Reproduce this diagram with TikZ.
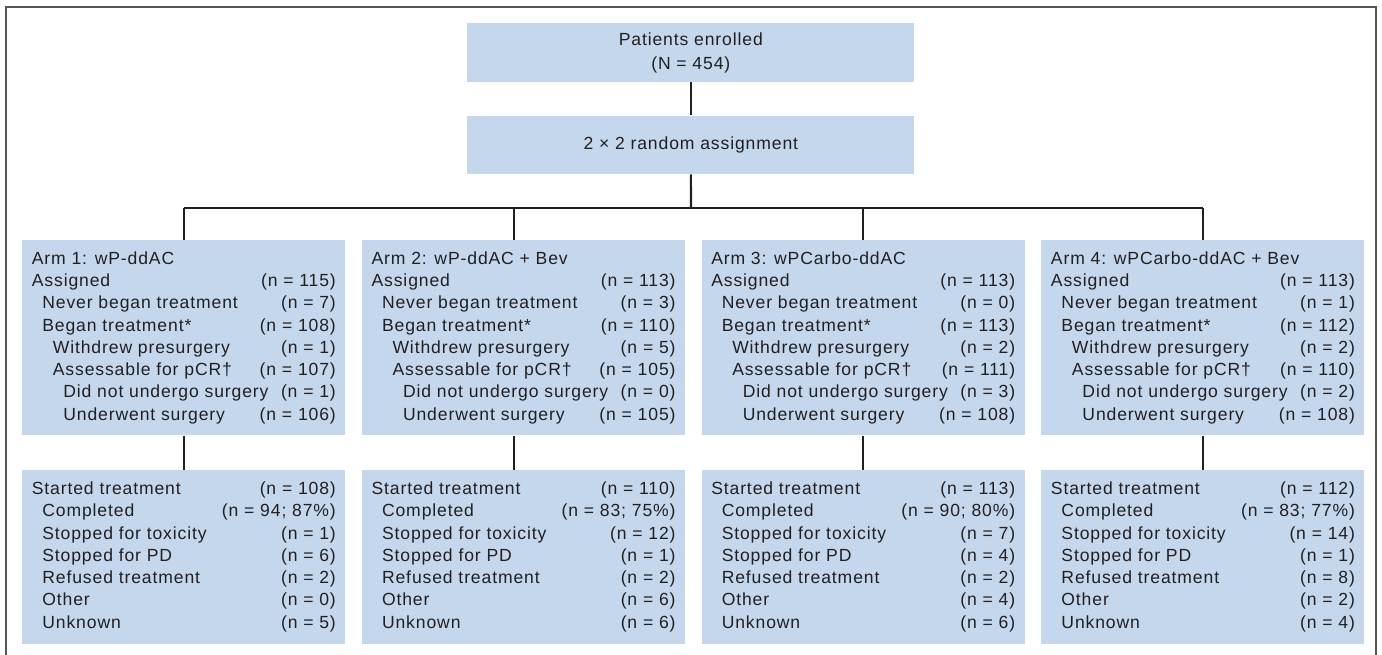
\documentclass[tikz,border=0pt]{standalone}
\usepackage{fontspec}
\setmainfont[LetterSpace=5]{Liberation Sans}
\usepackage{tikz}
\usetikzlibrary{positioning}

\definecolor{boxblue}{RGB}{196,215,237}
\definecolor{inkgray}{RGB}{35,31,32}
\definecolor{framegray}{RGB}{85,85,85}

\newlength{\pxu}
\setlength{\pxu}{0.02cm}
\newcommand{\lvA}{\hspace*{10.5\pxu}}
\newcommand{\lvB}{\hspace*{21\pxu}}
\newcommand{\lvC}{\hspace*{31.5\pxu}}
% one line of a box: label left, count right
\newcommand{\cntrow}[2]{\makebox[304\pxu][s]{#1\hfill#2}}

% upper arm box: title, then the seven counts
\newcommand{\armlist}[8]{%
  \begin{tabular}{@{}l@{}}
    #1\\
    \cntrow{Assigned}{(n = #2)}\\
    \cntrow{\lvA Never began treatment}{(n = #3)}\\
    \cntrow{\lvA Began treatment*}{(n = #4)}\\
    \cntrow{\lvB Withdrew presurgery}{(n = #5)}\\
    \cntrow{\lvB Assessable for pCR†}{(n = #6)}\\
    \cntrow{\lvC Did not undergo surgery}{(n = #7)}\\
    \cntrow{\lvC Underwent surgery}{(n = #8)}
  \end{tabular}}

% lower box: what became of the treatment
\newcommand{\treatlist}[7]{%
  \begin{tabular}{@{}l@{}}
    \cntrow{Started treatment}{(n = #1)}\\
    \cntrow{\lvA Completed}{(n = #2)}\\
    \cntrow{\lvA Stopped for toxicity}{(n = #3)}\\
    \cntrow{\lvA Stopped for PD}{(n = #4)}\\
    \cntrow{\lvA Refused treatment}{(n = #5)}\\
    \cntrow{\lvA Other}{(n = #6)}\\
    \cntrow{\lvA Unknown}{(n = #7)}
  \end{tabular}}

\begin{document}
\begin{tikzpicture}[
  x=0.02cm, y=-0.02cm,
  node distance=0.66cm and 0.32cm,
  every node/.style={text=inkgray},
  topbox/.style={fill=boxblue, minimum width=8.94cm, minimum height=1.17cm, inner sep=0pt, align=center,
    font=\fontsize{10pt}{13.6pt}\selectfont},
  armbox/.style={fill=boxblue, minimum width=6.46cm, minimum height=3.9cm, inner xsep=0.19cm, inner ysep=0pt,
    font=\fontsize{10pt}{12.67pt}\selectfont},
  resbox/.style={armbox, minimum height=3.48cm},
  link/.style={draw=inkgray, line width=1.2pt},
]
\useasboundingbox (0,0) rectangle (1382,655);

% Frame
\draw[framegray, line width=1.1pt] (6,655) -- (6,7) -- (1376,7) -- (1376,655);

% Nodes
\node[topbox, anchor=north west] (enrol) at (467,23) {Patients enrolled\\(N = 454)};
\node[topbox, below=of enrol] (assign) {2 × 2 random assignment};

\node[armbox, anchor=north west] (arm1) at (22,240)
  {\armlist{Arm 1: wP-ddAC}{115}{7}{108}{1}{107}{1}{106}};
\node[armbox, right=of arm1] (arm2)
  {\armlist{Arm 2: wP-ddAC + Bev}{113}{3}{110}{5}{105}{0}{105}};
\node[armbox, right=of arm2] (arm3)
  {\armlist{Arm 3: wPCarbo-ddAC}{113}{0}{113}{2}{111}{3}{108}};
\node[armbox, right=of arm3] (arm4)
  {\armlist{Arm 4: wPCarbo-ddAC + Bev}{113}{1}{112}{2}{110}{2}{108}};

\node[resbox, below=0.68cm of arm1] (tx1) {\treatlist{108}{94; 87\%}{1}{6}{2}{0}{5}};
\node[resbox, below=0.68cm of arm2] (tx2) {\treatlist{110}{83; 75\%}{12}{1}{2}{6}{6}};
\node[resbox, below=0.68cm of arm3] (tx3) {\treatlist{113}{90; 80\%}{7}{4}{2}{4}{6}};
\node[resbox, below=0.68cm of arm4] (tx4) {\treatlist{112}{83; 77\%}{14}{1}{8}{2}{4}};

% Lines
\coordinate (bus) at (691,208);
\coordinate (arm2top) at ([xshift=-0.19cm]arm2.north);
\coordinate (arm2bot) at ([xshift=-0.19cm]arm2.south);
\coordinate (tx2top) at ([xshift=-0.19cm]tx2.north);

\draw[link] (enrol) -- (assign);
\draw[link] (assign) -- (bus);
\draw[link] (arm1.north |- bus) -- (arm4.north |- bus);
\foreach \a/\t in {arm1/tx1, arm3/tx3, arm4/tx4} {
  \draw[link] (\a.north |- bus) -- (\a.north);
  \draw[link] (\a) -- (\t);
}
\draw[link] (arm2top |- bus) -- (arm2top);
\draw[link] (arm2bot) -- (tx2top);

\end{tikzpicture}
\end{document}
